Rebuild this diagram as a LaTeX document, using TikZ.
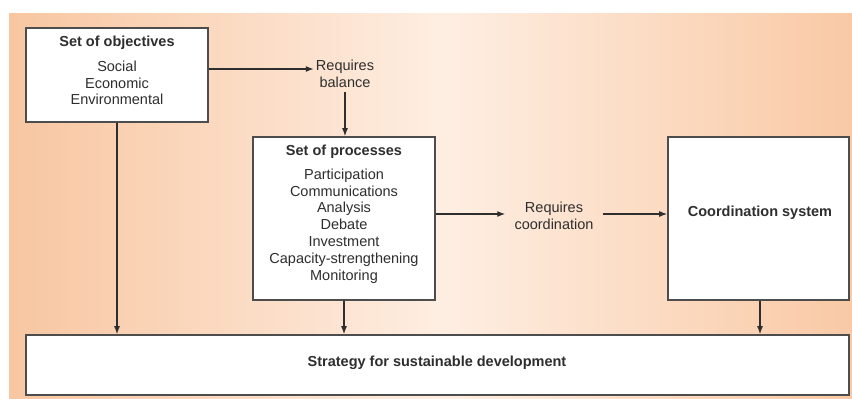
\documentclass[tikz,border=0pt]{standalone}
\usepackage{fontspec}
\setmainfont{Liberation Sans}
\usetikzlibrary{arrows.meta}
\definecolor{bgedge}{HTML}{F8C6A1}
\definecolor{bgedgeR}{HTML}{F9C9A5}
\definecolor{bgmid}{HTML}{FEEEE2}
\definecolor{ink}{HTML}{2E2E2E}
\definecolor{boxline}{HTML}{4D4D4D}
\begin{document}
\begin{tikzpicture}[x=1pt,y=-1pt,
  box/.style={draw=boxline, line width=1.6pt, fill=white, inner sep=0pt},
  label/.style={text=ink, font=\fontsize{14.5}{16.8}\selectfont, align=center, inner sep=2pt},
  title/.style={label, font=\fontsize{14.5}{16.8}\selectfont\bfseries},
  arr/.style={draw=ink, line width=1.3pt, -{Latex[length=8pt,width=6pt]}}]
  % canvas and background gradient
  \useasboundingbox (0,0) rectangle (852,399);
  \fill[white] (0,0) rectangle (852,399);
  \shade[left color=bgedge, right color=bgmid] (9,13) rectangle (445,399);
  \shade[left color=bgmid, right color=bgedgeR] (445,13) rectangle (852,399);

  % boxes
  \node[box, minimum width=182pt, minimum height=94pt] (obj) at (117,75) {};
  \node[box, minimum width=182pt, minimum height=163pt] (proc) at (344,218.5) {};
  \node[box, minimum width=181pt, minimum height=163pt] (coord) at (758.5,218.5) {};
  \node[box, minimum width=823pt, minimum height=60pt] (strat) at (437.5,365) {};

  % box texts
  \node[title] (objT) at (117,43) {Set of objectives};
  \node[label] (objL) at (117,83) {Social\\Economic\\Environmental};
  \node[title] (procT) at (344,152) {Set of processes};
  \node[label] (procL) at (344,226) {Participation\\Communications\\Analysis\\Debate\\Investment\\Capacity-strengthening\\Monitoring};
  \node[title] (coordT) at (760,213) {Coordination system};
  \node[title] (stratT) at (437,363) {Strategy for sustainable development};

  % free-standing labels
  \node[label] (bal) at (345,73.5) {Requires\\balance};
  \node[label, inner xsep=9pt] (req) at (554,215.5) {Requires\\coordination};

  % connectors
  \draw[arr] ([yshift=6pt]obj.east) -- ([yshift=6pt]obj.east -| bal.west);
  \draw[arr] ([yshift=-3pt]bal.south) -- (bal.south |- proc.north);
  \draw[arr] (obj.south) -- (obj.south |- strat.north);
  \draw[arr] (proc.south) -- (proc.south |- strat.north);
  \draw[arr] ([yshift=4.5pt]proc.east) -- ([yshift=4.5pt]proc.east -| req.west);
  \draw[arr] ([yshift=4.5pt]proc.east -| req.east) -- ([yshift=4.5pt]proc.east -| coord.west);
  \draw[arr] ([xshift=1.5pt]coord.south) -- ([xshift=1.5pt]coord.south |- strat.north);
\end{tikzpicture}
\end{document}
